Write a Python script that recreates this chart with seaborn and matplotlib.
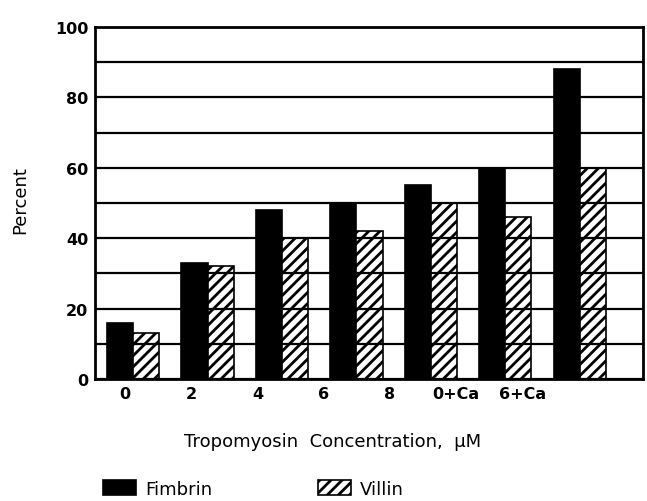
import pandas as pd
import matplotlib.pyplot as plt
import seaborn as sns

categories = ['0', '2', '4', '6', '8', '0+Ca', '6+Ca']
fimbrin = [16, 33, 48, 50, 55, 60, 88]
villin = [13, 32, 40, 42, 50, 46, 60]
series = ['Fimbrin', 'Villin']

df = pd.DataFrame({
    'conc': categories * 2,
    'percent': fimbrin + villin,
    'protein': [series[0]] * len(categories) + [series[1]] * len(categories),
})

plt.rcParams['font.family'] = ['DejaVu Sans']
plt.rcParams['hatch.linewidth'] = 2.0

fig = plt.figure(figsize=(6.47, 5.02), dpi=100)
ax = fig.add_axes([0.147, 0.243, 0.847, 0.701])

sns.barplot(data=df, x='conc', y='percent', hue='protein', order=categories,
            hue_order=series, palette=['black', 'white'], width=0.7,
            edgecolor='black', linewidth=1.2, ax=ax, legend=False)
for bar in ax.containers[1]:
    bar.set_hatch('///')

# horizontal rules every 10, labels every 20
ax.set_ylim(0, 100)
ax.set_yticks(range(0, 101, 20))
ax.set_yticks(range(10, 100, 20), minor=True)
ax.grid(axis='y', which='both', color='black', linewidth=1.6)
ax.set_axisbelow(False)
ax.tick_params(axis='both', which='both', length=0)
ax.tick_params(axis='y', pad=5, labelsize=11.5)
ax.tick_params(axis='x', pad=5, labelsize=11.5)
for lab in ax.get_yticklabels():
    lab.set_fontweight('semibold')
    lab.set_verticalalignment('center_baseline')

# the original's labels are spaced a bit tighter than the bar groups
ax.set_xticks([i * 0.89 - 0.11 for i in range(len(categories))])
ax.set_xticklabels(categories, fontweight='semibold')
ax.set_xlim(-0.51, 6.85)

for s in ax.spines.values():
    s.set_color('black')
    s.set_linewidth(2)

ax.set_xlabel('Tropomyosin  Concentration,  μM', fontsize=13)
ax.xaxis.set_label_coords(0.434, -0.15)
ax.set_ylabel('Percent', fontsize=13)
ax.yaxis.set_label_coords(-0.12, 0.51)

fig.legend(ax.containers, series, loc='center left',
           bbox_to_anchor=(87 / 647, 1 - 490 / 502), ncol=2, frameon=False,
           handlelength=1.8, handleheight=0.9, handletextpad=0.5,
           columnspacing=5.9, fontsize=13)

fig.savefig('out.png', dpi=100)
